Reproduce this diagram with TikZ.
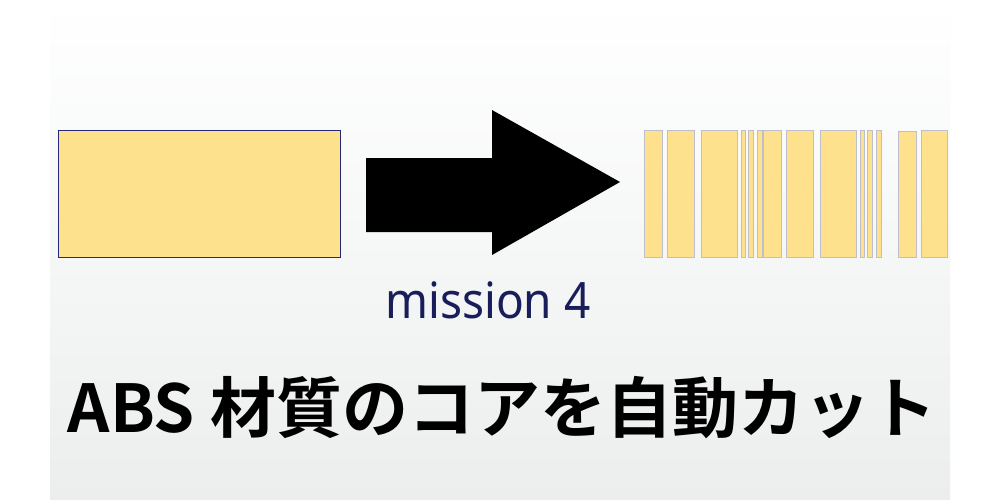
\documentclass[tikz,border=0pt]{standalone}
\usepackage{fontspec}
\setmainfont{Noto Sans}
\newfontfamily\cjk{Noto Sans CJK JP}[BoldFont={* Bold}]
\begin{document}
\begin{tikzpicture}[x=1pt,y=-1pt,
  strip/.style={fill={rgb,255:red,253;green,225;blue,141},draw={rgb,255:red,190;green,190;blue,205},line width=0.8pt}]
\useasboundingbox (0,0) rectangle (1000,500);
\fill[white] (0,0) rectangle (1000,500);
\shade[top color=white,bottom color={rgb,255:red,236;green,238;blue,238}] (50,0) rectangle (950,500);
\node[draw={rgb,255:red,40;green,40;blue,120},line width=1pt,fill={rgb,255:red,253;green,225;blue,141},minimum width=282pt,minimum height=127pt,inner sep=0pt] (src) at (199,193.5) {};
\fill[black] (366,158) -- (492,158) -- (492,110) -- (620,182) -- (492,255) -- (492,232) -- (366,232) -- cycle;
\node[text={rgb,255:red,25;green,30;blue,90},draw=none,font=\fontsize{50}{50}\selectfont,xscale=0.92] (lbl) at (488,300) {mission 4};
\foreach \a/\b/\t in {644.3/662.7/130.3,667.3/694.3/130.3,701.3/737.3/130.3,741/745.7/130.3,748.3/753.7/130.3,757.3/762.7/130.3,763.3/781.7/130.3,786.3/813.3/130.3,820.3/856.7/130.3,860/864.7/130.3,867.3/872.3/130.3,876.3/881.3/130.3,898.3/916.7/131.3,921.3/947.7/130.3}
  \draw[strip] (\a,\t) rectangle (\b,257);
\node[font=\cjk\bfseries\fontsize{66}{66}\selectfont] (title) at (502,408) {ABS 材質のコアを自動カット};
\end{tikzpicture}
\end{document}
